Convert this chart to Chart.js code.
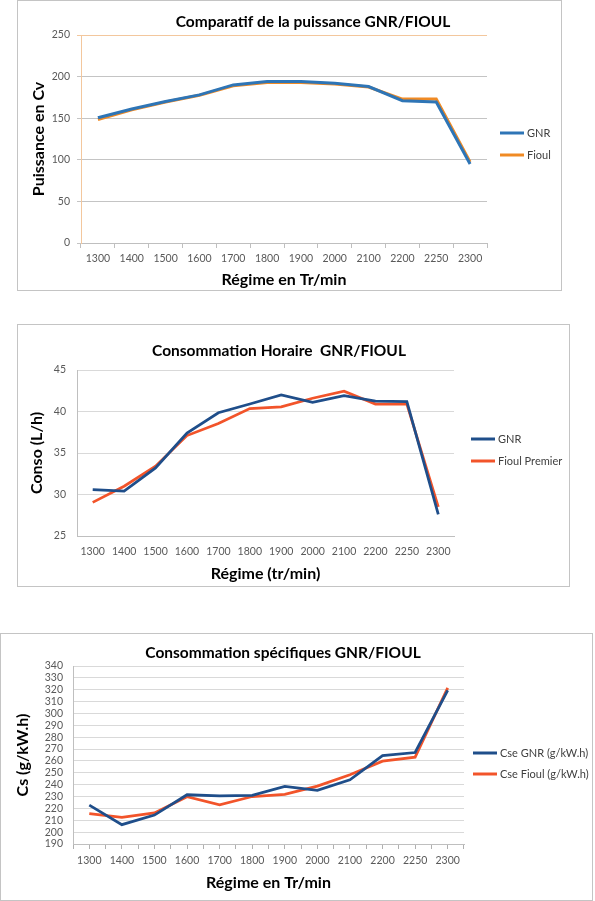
<!DOCTYPE html>
<html>
<head>
<meta charset="utf-8">
<script src="https://cdn.jsdelivr.net/npm/chart.js@4.4.1/dist/chart.umd.min.js"></script>
<style>
  html, body { margin: 0; padding: 0; background: #fff; overflow: hidden; }
  body { position: relative; width: 595px; height: 901px; }
  .box { position: absolute; box-sizing: border-box; border: 1px solid #c4c4c4; }
  canvas { position: absolute; left: 0; }
</style>
</head>
<body>
<div class="box" style="left:17px; top:0px; width:545px; height:291px;"></div>
<div class="box" style="left:17px; top:324px; width:553px; height:263px;"></div>
<div class="box" style="left:0px; top:633px; width:593px; height:268px;"></div>
<canvas id="puissance" width="595" height="292" style="top:0px;"></canvas>
<canvas id="conso-horaire" width="595" height="266" style="top:322px;"></canvas>
<canvas id="conso-specifique" width="595" height="270" style="top:631px;"></canvas>
<script>
// régimes moteur (tr/min)
const categories = ["1300", "1400", "1500", "1600", "1700", "1800", "1900", "2000", "2100", "2200", "2250", "2300"];

// puissance (Cv)
const puissance_gnr = [150.5, 161, 170, 178, 190, 194, 194, 192, 188, 171, 169.5, 95];
const puissance_fioul = [148.5, 160, 169.5, 177.5, 189, 193, 193, 191, 187.5, 173, 173, 97.5];

// consommation horaire (L/h)
const conso_gnr = [30.6, 30.4, 33.2, 37.4, 39.85, 40.9, 42.0, 41.1, 41.9, 41.25, 41.2, 27.6];
const conso_fioul = [29.05, 31.0, 33.4, 37.1, 38.55, 40.35, 40.55, 41.6, 42.45, 40.9, 40.9, 28.5];

// consommation spécifique (g/kW.h)
const cse_gnr = [222.8, 206.3, 214.4, 231.5, 230.5, 231, 238.5, 235.2, 244.1, 264.5, 267.1, 319.5];
const cse_fioul = [215.5, 212.4, 216.2, 229.8, 223.1, 230, 231.8, 238.8, 248.3, 259.8, 263.2, 321.5];

// petites graduations de l'axe x du 3e graphique (2 par catégorie)
const half_ticks = categories.flatMap(function (c) { return ["", ""]; });

Chart.defaults.font.family = "Lato, 'Open Sans', sans-serif";
Chart.defaults.color = "#595959";

// titre + légende à droite, placés comme dans Excel
const chartText = {
  id: "chartText",
  afterDraw: function (chart, args, opts) {
    const ctx = chart.ctx;
    ctx.save();
    ctx.fillStyle = "#000";
    ctx.font = "bold 15.5px Lato";
    ctx.textAlign = "center";
    ctx.textBaseline = "middle";
    ctx.fillText(opts.title, opts.titleX, opts.titleY);
    ctx.font = "11px Lato";
    ctx.textAlign = "left";
    chart.data.datasets.forEach(function (ds, i) {
      const y = opts.legendY + i * opts.legendGap;
      ctx.strokeStyle = ds.borderColor;
      ctx.lineWidth = 3;
      ctx.beginPath();
      ctx.moveTo(opts.legendX, y);
      ctx.lineTo(opts.legendX + 24, y);
      ctx.stroke();
      ctx.fillStyle = "#404040";
      ctx.fillText(ds.label, opts.legendX + 27, y);
    });
    ctx.restore();
  },
};

const tickFont = { size: 10.5 };
const axisTitleFont = { size: 16, weight: "bold" };

document.addEventListener("DOMContentLoaded", function () {
  const puissance = document.getElementById("puissance");
  new Chart(puissance, {
    type: "line",
    data: {
      labels: categories,
      datasets: [
        {
          label: "GNR",
          data: puissance_gnr,
          borderColor: "#2e75b6",
          backgroundColor: "#2e75b6",
          borderWidth: 3,
          pointRadius: 0,
          tension: 0,
        },
        {
          label: "Fioul",
          data: puissance_fioul,
          borderColor: "#f08a24",
          backgroundColor: "#f08a24",
          borderWidth: 3,
          pointRadius: 0,
          tension: 0,
        },
      ],
    },
    options: {
      responsive: false,
      animation: false,
      layout: { padding: { left: 20, right: 108, top: 35, bottom: 3 } },
      scales: {
        x: {
          offset: true,
          grid: {
            offset: true,
            color: function (c) { return c.index === categories.length ? "#f3c79d" : "rgba(0,0,0,0)"; },
            tickColor: "#bfbfbf",
            tickLength: 5,
          },
          border: { color: "#bfbfbf" },
          ticks: { font: tickFont, padding: 4, maxRotation: 0, autoSkip: false },
          title: { display: true, text: "Régime en Tr/min", color: "#000", font: axisTitleFont, padding: 0 },
          afterFit: function (s) { s.height = 46; },
        },
        y: {
          min: 0,
          max: 250,
          grid: {
            color: function (c) { return c.tick && c.tick.value === 250 ? "#f3c79d" : "#c4c4c4"; },
            tickLength: 4,
          },
          border: { color: "#f3c79d" },
          ticks: { stepSize: 50, font: tickFont, padding: 7, autoSkip: false },
          title: { display: true, text: "Puissance en Cv", color: "#000", font: axisTitleFont, padding: { top: 9.4, bottom: 0 } },
          afterFit: function (s) { s.width = 61; },
        },
      },
      plugins: {
        legend: { display: false },
        tooltip: { enabled: false },
        chartText: {
          title: "Comparatif de la puissance GNR/FIOUL",
          titleX: 313,
          titleY: 21.7,
          legendX: 500,
          legendY: 133,
          legendGap: 22,
        },
      },
    },
    plugins: [chartText],
  });
});

document.addEventListener("DOMContentLoaded", function () {
  const conso_horaire = document.getElementById("conso-horaire");
  new Chart(conso_horaire, {
    type: "line",
    data: {
      labels: categories,
      datasets: [
        {
          label: "GNR",
          data: conso_gnr,
          borderColor: "#1f4e8a",
          backgroundColor: "#1f4e8a",
          borderWidth: 2.75,
          pointRadius: 0,
          tension: 0,
        },
        {
          label: "Fioul Premier",
          data: conso_fioul,
          borderColor: "#f2542a",
          backgroundColor: "#f2542a",
          borderWidth: 2.75,
          pointRadius: 0,
          tension: 0,
        },
      ],
    },
    options: {
      responsive: false,
      animation: false,
      layout: { padding: { left: 20, right: 141, top: 48, bottom: 5 } },
      scales: {
        x: {
          offset: true,
          grid: {
            offset: true,
            drawTicks: false,
            color: function (c) { return c.index === categories.length ? "#d9d9d9" : "rgba(0,0,0,0)"; },
          },
          border: { color: "#bfbfbf" },
          ticks: { font: tickFont, padding: 9, maxRotation: 0, autoSkip: false },
          title: { display: true, text: "Régime (tr/min)", color: "#000", font: axisTitleFont, padding: 0 },
          afterFit: function (s) { s.height = 47; },
        },
        y: {
          min: 25,
          max: 45,
          grid: { color: "#d9d9d9", drawTicks: false },
          border: { color: "#bfbfbf" },
          ticks: { stepSize: 5, font: tickFont, padding: 11, autoSkip: false },
          title: { display: true, text: "Conso (L/h)", color: "#000", font: axisTitleFont, padding: { top: 7.4, bottom: 0 } },
          afterFit: function (s) { s.width = 57; },
        },
      },
      plugins: {
        legend: { display: false },
        tooltip: { enabled: false },
        chartText: {
          title: "Consommation Horaire  GNR/FIOUL",
          titleX: 279,
          titleY: 29,
          legendX: 471,
          legendY: 117,
          legendGap: 22,
        },
      },
    },
    plugins: [chartText],
  });
});

document.addEventListener("DOMContentLoaded", function () {
  const conso_specifique = document.getElementById("conso-specifique");
  new Chart(conso_specifique, {
    type: "line",
    data: {
      labels: categories,
      datasets: [
        {
          label: "Cse GNR (g/kW.h)",
          data: cse_gnr,
          borderColor: "#1f4e8a",
          backgroundColor: "#1f4e8a",
          borderWidth: 2.75,
          pointRadius: 0,
          tension: 0,
        },
        {
          label: "Cse Fioul (g/kW.h)",
          data: cse_fioul,
          borderColor: "#f2542a",
          backgroundColor: "#f2542a",
          borderWidth: 2.75,
          pointRadius: 0,
          tension: 0,
        },
      ],
    },
    options: {
      responsive: false,
      animation: false,
      layout: { padding: { left: 5, right: 131, top: 35, bottom: 9 } },
      scales: {
        x: {
          offset: true,
          grid: {
            offset: true,
            drawTicks: false,
            color: function (c) { return c.index === categories.length ? "#d9d9d9" : "rgba(0,0,0,0)"; },
          },
          border: { color: "#bfbfbf" },
          ticks: { font: tickFont, padding: 10, maxRotation: 0, autoSkip: false },
          title: { display: true, text: "Régime en Tr/min", color: "#000", font: axisTitleFont, padding: 0 },
          afterFit: function (s) { s.height = 48; },
        },
        x2: {
          type: "category",
          axis: "x",
          display: true,
          labels: half_ticks,
          position: { y: 190 },
          offset: true,
          grid: { offset: true, drawOnChartArea: false, color: "#b0b0b0", tickLength: 5 },
          border: { display: false },
          ticks: { display: false },
        },
        y: {
          min: 190,
          max: 340,
          grid: { color: "#d9d9d9", drawTicks: false },
          border: { color: "#bfbfbf" },
          ticks: { stepSize: 10, font: tickFont, padding: 10, autoSkip: false },
          title: { display: true, text: "Cs (g/kW.h)", color: "#000", font: axisTitleFont, padding: { top: 8, bottom: 0 } },
          afterFit: function (s) { s.width = 68; },
        },
      },
      plugins: {
        legend: { display: false },
        tooltip: { enabled: false },
        chartText: {
          title: "Consommation spécifiques GNR/FIOUL",
          titleX: 283,
          titleY: 22,
          legendX: 473,
          legendY: 122,
          legendGap: 21,
        },
      },
    },
    plugins: [chartText],
  });
});
</script>
</body>
</html>
